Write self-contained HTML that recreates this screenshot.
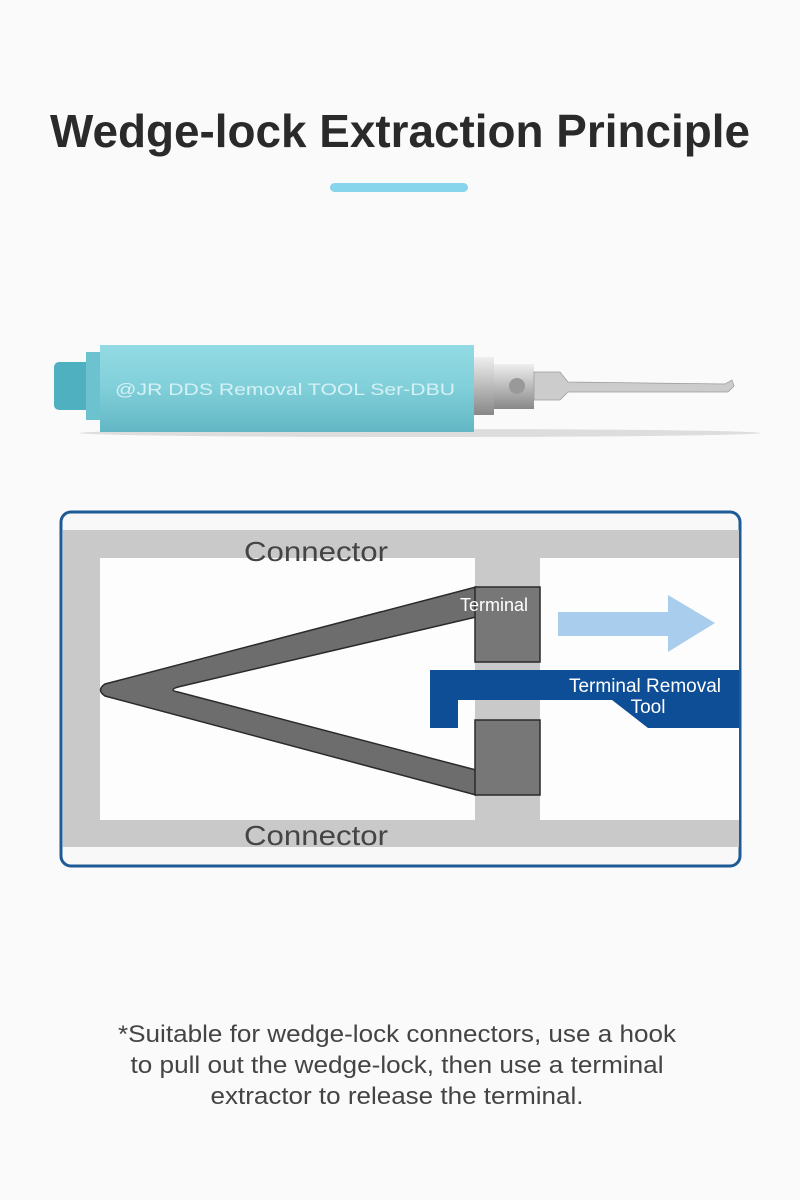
<!DOCTYPE html>
<html><head><meta charset="utf-8"><style>
html,body{margin:0;padding:0;background:#fafafa;}
svg{display:block;}
text{font-family:"Liberation Sans",sans-serif;}
</style></head><body>
<svg width="800" height="1200" viewBox="0 0 800 1200" xmlns="http://www.w3.org/2000/svg">
<rect width="800" height="1200" fill="#fafafa"/>
<text x="400" y="147" text-anchor="middle" font-size="46" font-weight="bold" fill="#2a2a2a" textLength="700" lengthAdjust="spacingAndGlyphs">Wedge-lock Extraction Principle</text>
<rect x="330" y="183" width="138" height="9" rx="4.5" fill="#87d5ec"/>

<defs>
<linearGradient id="body" x1="0" y1="0" x2="0" y2="1">
<stop offset="0" stop-color="#93dbe4"/><stop offset="0.5" stop-color="#80cfd9"/><stop offset="1" stop-color="#62b7c4"/></linearGradient>
<linearGradient id="metal" x1="0" y1="0" x2="0" y2="1">
<stop offset="0" stop-color="#eee"/><stop offset="0.5" stop-color="#bbb"/><stop offset="1" stop-color="#888"/></linearGradient>
</defs>
<ellipse cx="420" cy="433" rx="340" ry="4" fill="#ddd"/>
<rect x="54" y="362" width="40" height="48" rx="5" fill="#4fb0bf"/>
<rect x="86" y="352" width="14" height="68" fill="#6cc2cf"/>
<path d="M100 345 L474 345 L474 432 L100 432 Z" fill="url(#body)"/>
<text x="115" y="395" font-size="17" fill="#d5f1f5" textLength="340" lengthAdjust="spacingAndGlyphs">@JR DDS Removal TOOL Ser-DBU</text>
<rect x="474" y="357" width="20" height="58" fill="url(#metal)"/>
<rect x="494" y="364" width="40" height="45" fill="url(#metal)"/>
<circle cx="517" cy="386" r="8" fill="#999"/>
<path d="M534 372 L560 372 L568 382 L725 384 L732 380 L734 386 L728 392 L568 392 L560 400 L534 400 Z" fill="#ccc" stroke="#999" stroke-width="0.7"/>

<rect x="61" y="512" width="679" height="354" rx="10" fill="#f8f8f8" stroke="#1e5b96" stroke-width="3"/>
<rect x="63" y="530" width="676" height="28" fill="#c9c9c9"/>
<rect x="63" y="820" width="676" height="27" fill="#c9c9c9"/>
<rect x="63" y="530" width="37" height="317" fill="#c9c9c9"/>
<rect x="475" y="530" width="65" height="317" fill="#c9c9c9"/>
<rect x="100" y="558" width="375" height="262" fill="#fdfdfd"/>
<rect x="540" y="558" width="199" height="262" fill="#fdfdfd"/>
<text x="316" y="561" text-anchor="middle" font-size="28" fill="#444" textLength="144" lengthAdjust="spacingAndGlyphs">Connector</text>
<text x="316" y="845" text-anchor="middle" font-size="28" fill="#444" textLength="144" lengthAdjust="spacingAndGlyphs">Connector</text>
<path d="M476 587 L105 684 Q96 690 105 696 L476 795 L476 770 L178 692 Q168 690 178 687 L476 617 Z" fill="#6d6d6d" stroke="#2a2a2a" stroke-width="1.5"/>
<rect x="475" y="587" width="65" height="75" fill="#777" stroke="#2a2a2a" stroke-width="1.5"/>
<rect x="475" y="720" width="65" height="75" fill="#777" stroke="#2a2a2a" stroke-width="1.5"/>
<text x="494" y="611" text-anchor="middle" font-size="18" fill="#fff">Terminal</text>
<path d="M558 612 L668 612 L668 595 L715 623 L668 652 L668 636 L558 636 Z" fill="#a9cdec"/>
<path d="M430 670 L739 670 L739 728 L648 728 L612 700 L458 700 L458 728 L430 728 Z" fill="#0d4e96"/>
<text x="645" y="692" text-anchor="middle" font-size="19" fill="#fff">Terminal Removal</text>
<text x="648" y="713" text-anchor="middle" font-size="19" fill="#fff">Tool</text>

<text x="397" y="1042" text-anchor="middle" font-size="24" fill="#444" textLength="558" lengthAdjust="spacingAndGlyphs">*Suitable for wedge-lock connectors, use a hook</text>
<text x="397" y="1073" text-anchor="middle" font-size="24" fill="#444" textLength="533" lengthAdjust="spacingAndGlyphs">to pull out the wedge-lock, then use a terminal</text>
<text x="397" y="1104" text-anchor="middle" font-size="24" fill="#444" textLength="373" lengthAdjust="spacingAndGlyphs">extractor to release the terminal.</text>
</svg>
</body></html>
